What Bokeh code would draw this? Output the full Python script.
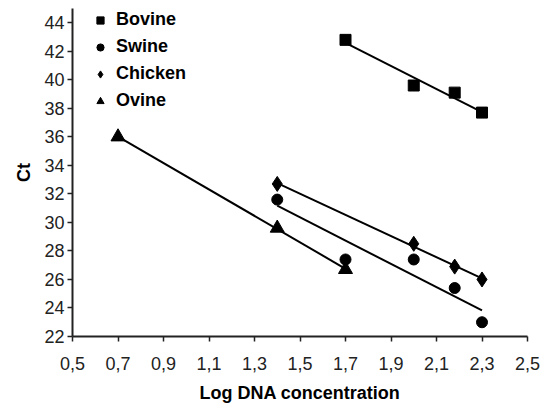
import numpy as np
from bokeh.plotting import figure
from bokeh.models import Range1d, FixedTicker, Legend, LegendItem
from bokeh.embed import file_html
from bokeh.resources import INLINE

# data
bovine_x = [1.7, 2.0, 2.18, 2.3]
bovine_y = [42.8, 39.6, 39.1, 37.7]
swine_x = [1.4, 1.7, 2.0, 2.18, 2.3]
swine_y = [31.6, 27.4, 27.4, 25.4, 23.0]
chicken_x = [1.4, 2.0, 2.18, 2.3]
chicken_y = [32.7, 28.5, 26.9, 26.0]
ovine_x = [0.7, 1.4, 1.7]
ovine_y = [36.0, 29.6, 26.7]

x_ticks = [0.5, 0.7, 0.9, 1.1, 1.3, 1.5, 1.7, 1.9, 2.1, 2.3, 2.5]
x_tick_labels = ["0,5", "0,7", "0,9", "1,1", "1,3", "1,5", "1,7", "1,9", "2,1", "2,3", "2,5"]
y_ticks = [22, 24, 26, 28, 30, 32, 34, 36, 38, 40, 42, 44]

FONT = "Liberation Sans"

p = figure(width=549, height=405, output_backend="svg", toolbar_location=None,
           x_range=Range1d(0.5, 2.5), y_range=Range1d(22, 45),
           min_border_left=72, min_border_right=22, min_border_top=8, min_border_bottom=69)
p.outline_line_color = None
p.grid.visible = False
p.background_fill_color = "white"

for ax in (p.xaxis[0], p.yaxis[0]):
    ax.axis_line_color = "#222222"
    ax.axis_line_width = 2
    ax.major_tick_line_color = "#222222"
    ax.major_tick_line_width = 1.5
    ax.major_tick_out = 5
    ax.major_tick_in = 0
    ax.minor_tick_line_color = None
    ax.major_label_text_font = FONT
    ax.major_label_text_font_size = "18px"
    ax.major_label_text_color = "#222222"
    ax.axis_label_text_font = FONT
    ax.axis_label_text_font_size = "18px"
    ax.axis_label_text_font_style = "bold"
    ax.axis_label_text_color = "black"

p.xaxis.ticker = FixedTicker(ticks=x_ticks)
p.xaxis.major_label_overrides = {t: l for t, l in zip(x_ticks, x_tick_labels)}
p.yaxis.ticker = FixedTicker(ticks=y_ticks)
p.xaxis.axis_label = "Log DNA concentration"
p.yaxis.axis_label = "Ct"
p.xaxis.major_label_standoff = 15
p.xaxis.axis_label_standoff = 10
p.yaxis.major_label_standoff = 3
p.yaxis.axis_label_standoff = 7


def trend(xs, ys):
    k, b = np.polyfit(xs, ys, 1)
    x0, x1 = min(xs), max(xs)
    p.line([x0, x1], [k * x0 + b, k * x1 + b], line_color="black", line_width=2)


for xs, ys in ((bovine_x, bovine_y), (swine_x, swine_y), (chicken_x, chicken_y), (ovine_x, ovine_y)):
    trend(xs, ys)

r_b = p.scatter(bovine_x, bovine_y, marker="square", size=11, color="black")
r_s = p.scatter(swine_x, swine_y, marker="circle", size=11, color="black")
r_c = p.scatter(chicken_x, chicken_y, marker="diamond", size=15, color="black")
r_o = p.scatter(ovine_x, ovine_y, marker="triangle", size=14, color="black")

legend = Legend(items=[LegendItem(label="Bovine", renderers=[r_b]),
                       LegendItem(label="Swine", renderers=[r_s]),
                       LegendItem(label="Chicken", renderers=[r_c]),
                       LegendItem(label="Ovine", renderers=[r_o])],
                location=(19, 225), padding=0, margin=0, spacing=6,
                glyph_width=18, glyph_height=18, label_height=16, label_standoff=7,
                label_text_font=FONT, label_text_font_size="18px", label_text_font_style="bold",
                label_text_color="black", border_line_color=None, background_fill_alpha=0)
p.add_layout(legend)

open("out.html", "w").write(file_html(p, INLINE))
